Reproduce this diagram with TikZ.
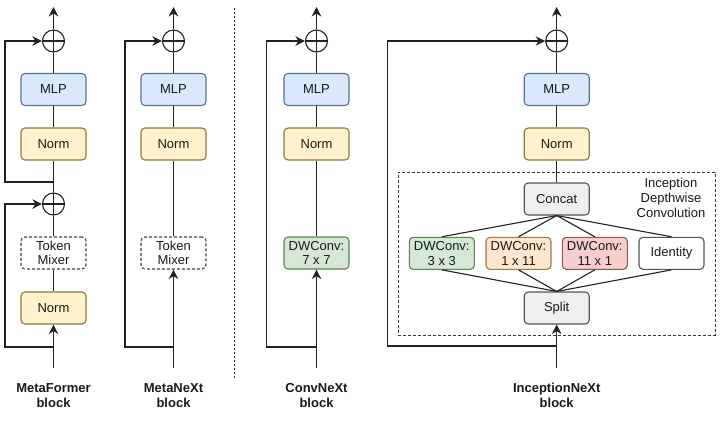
\documentclass[tikz,border=0pt]{standalone}
\usepackage{fontspec}
\setmainfont{Liberation Sans}
\usetikzlibrary{arrows.meta}
\definecolor{mlpF}{HTML}{DAE8FC}\definecolor{mlpD}{HTML}{56729C}
\definecolor{normF}{HTML}{FFF2CC}\definecolor{normD}{HTML}{8E7A3C}
\definecolor{grnF}{HTML}{D5E8D4}\definecolor{grnD}{HTML}{5E7F50}
\definecolor{orgF}{HTML}{FFE6CC}\definecolor{orgD}{HTML}{9A7A4A}
\definecolor{redF}{HTML}{F8CECC}\definecolor{redD}{HTML}{8E5552}
\definecolor{gryF}{HTML}{EFEFEF}\definecolor{gryD}{HTML}{555555}
\definecolor{lineC}{HTML}{222222}
\begin{document}
\begin{tikzpicture}[x=1pt,y=-1pt,
  every node/.style={font=\fontsize{13}{14.5}\selectfont, text=black!90},
  box/.style={draw, rounded corners=4pt, line width=1.1pt, minimum width=65pt, minimum height=32pt, inner sep=1pt, align=center},
  mlpbox/.style={box, fill=mlpF, draw=mlpD},
  normbox/.style={box, fill=normF, draw=normD},
  grnbox/.style={box, fill=grnF, draw=grnD},
  orgbox/.style={box, fill=orgF, draw=orgD},
  redbox/.style={box, fill=redF, draw=redD},
  grybox/.style={box, fill=gryF, draw=gryD},
  whtbox/.style={box, fill=white, draw=gryD},
  mixbox/.style={box, draw=black!75, dashed, dash pattern=on 3pt off 2pt, fill=white},
  plus/.style={draw=lineC, circle, line width=1.1pt, minimum size=22pt, inner sep=0pt,
    path picture={\draw[lineC, line width=1.1pt] (path picture bounding box.north) -- (path picture bounding box.south)
      (path picture bounding box.west) -- (path picture bounding box.east);}},
  ln/.style={draw=lineC, line width=1.2pt},
  arr/.style={ln, -{Stealth[length=9.5pt,width=9.5pt,inset=3pt]}},
  blab/.style={font=\bfseries\fontsize{13}{15.5}\selectfont, align=center, text=black!90},
]
\useasboundingbox (0,0) rectangle (720,424);

% ---------- MetaFormer ----------
\node[plus] (a_p1) at (53.5,41) {};
\node[mlpbox] (a_mlp) at (53.5,89.5) {MLP};
\node[normbox] (a_n1) at (53.5,144) {Norm};
\node[plus] (a_p2) at (53.5,204) {};
\node[mixbox] (a_mix) at (53.5,253) {Token\\Mixer};
\node[normbox] (a_n2) at (53.5,308) {Norm};
\coordinate (a_top) at (53.5,7);
\coordinate (a_j1) at (53.5,182);
\coordinate (a_j2) at (53.5,347);
\coordinate (a_in) at (53.5,368);
\draw[arr] (a_p1) -- (a_top);
\draw[ln] (a_mlp) -- (a_p1);
\draw[ln] (a_n1) -- (a_mlp);
\draw[ln] (a_p2) -- (a_n1);
\draw[ln] (a_mix) -- (a_p2);
\draw[ln] (a_n2) -- (a_mix);
\draw[arr] (a_in) -- (a_n2);
\draw[arr] (a_j1) -- ++(-48.5,0) |- (a_p1);
\draw[arr] (a_j2) -- ++(-48.5,0) |- (a_p2);
\node[blab] (a_lab) at (53.5,395.5) {MetaFormer\\block};

% ---------- MetaNeXt ----------
\node[plus] (b_p1) at (173.5,41) {};
\node[mlpbox] (b_mlp) at (173.5,89.5) {MLP};
\node[normbox] (b_n1) at (173.5,144) {Norm};
\node[mixbox] (b_mix) at (173.5,253) {Token\\Mixer};
\coordinate (b_top) at (173.5,7);
\coordinate (b_j) at (173.5,347);
\coordinate (b_in) at (173.5,368);
\draw[arr] (b_p1) -- (b_top);
\draw[ln] (b_mlp) -- (b_p1);
\draw[ln] (b_n1) -- (b_mlp);
\draw[ln] (b_mix) -- (b_n1);
\draw[arr] (b_in) -- (b_mix);
\draw[arr] (b_j) -- ++(-48.5,0) |- (b_p1);
\node[blab] (b_lab) at (173.5,395.5) {MetaNeXt\\block};

% ---------- divider ----------
\coordinate (d_t) at (234,8);
\coordinate (d_b) at (234,378);
\draw[black!80, line width=1pt, dash pattern=on 2pt off 2pt] (d_t) -- (d_b);

% ---------- ConvNeXt ----------
\node[plus] (c_p1) at (316.5,41) {};
\node[mlpbox] (c_mlp) at (316.5,89.5) {MLP};
\node[normbox] (c_n1) at (316.5,144) {Norm};
\node[grnbox] (c_dw) at (316.5,253) {DWConv:\\7 x 7};
\coordinate (c_top) at (316.5,7);
\coordinate (c_j) at (316.5,347);
\coordinate (c_in) at (316.5,368);
\draw[arr] (c_p1) -- (c_top);
\draw[ln] (c_mlp) -- (c_p1);
\draw[ln] (c_n1) -- (c_mlp);
\draw[ln] (c_dw) -- (c_n1);
\draw[arr] (c_in) -- (c_dw);
\draw[arr] (c_j) -- ++(-49.8,0) |- (c_p1);
\node[blab] (c_lab) at (316.5,395.5) {ConvNeXt\\block};

% ---------- InceptionNeXt ----------
\node[draw=black!80, line width=1pt, dash pattern=on 3pt off 2pt, minimum width=317pt, minimum height=163pt, inner sep=0pt] (d_box) at (556.5,253.5) {};
\node[align=center, font=\fontsize{13}{15}\selectfont] (d_lab) at (671,198) {Inception\\Depthwise\\Convolution};
\node[plus] (d_p1) at (556.7,41) {};
\node[mlpbox] (d_mlp) at (556.7,89.5) {MLP};
\node[normbox] (d_n1) at (556.7,144) {Norm};
\node[grybox] (d_cat) at (556.7,199) {Concat};
\node[grnbox] (d_b1) at (441.8,253.3) {DWConv:\\3 x 3};
\node[orgbox] (d_b2) at (518.5,253.3) {DWConv:\\1 x 11};
\node[redbox] (d_b3) at (594.8,253.3) {DWConv:\\11 x 1};
\node[whtbox] (d_b4) at (671.5,253.3) {Identity};
\node[grybox] (d_spl) at (556.7,308) {Split};
\coordinate (d_top) at (556.7,7);
\coordinate (d_j) at (556.7,346);
\coordinate (d_in) at (556.7,368);
\draw[arr] (d_p1) -- (d_top);
\draw[ln] (d_mlp) -- (d_p1);
\draw[ln] (d_n1) -- (d_mlp);
\draw[ln] (d_cat) -- (d_n1);
\foreach \b in {d_b1,d_b2,d_b3,d_b4}{
  \draw[ln, line width=1.1pt] (d_cat.south) -- (\b.north);
  \draw[ln, line width=1.1pt] (\b.south) -- (d_spl.north);
}
\draw[arr] (d_in) -- (d_spl);
\draw[arr] (d_j) -- ++(-169.4,0) |- (d_p1);
\node[blab] (d_blab) at (556.7,395.5) {InceptionNeXt\\block};
\end{tikzpicture}
\end{document}
